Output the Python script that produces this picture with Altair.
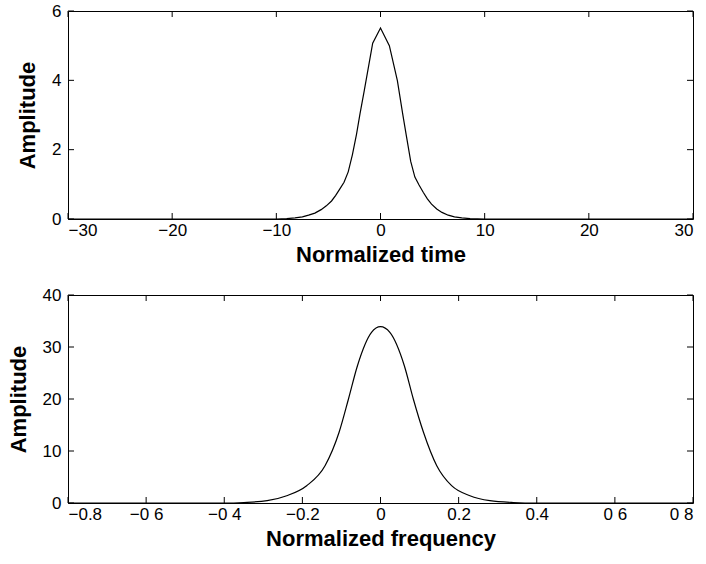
import altair as alt
import pandas as pd

# ---- data ----
time_x = [-30, -10, -9, -8.2, -7.5, -6.9, -6.3, -5.7, -5.2, -4.7, -4.3, -3.9, -3.5, -3.1,
          -2.7, -2.3, -1.97, -1.55, -0.75, 0, 0.85, 1.62, 2.13, 2.5, 2.9, 3.3, 3.7, 4.1,
          4.5, 4.9, 5.4, 5.9, 6.5, 7.1, 7.8, 8.6, 10, 30]
time_y = [0, 0, 0.01, 0.03, 0.06, 0.11, 0.17, 0.27, 0.38, 0.52, 0.68, 0.87, 1.06, 1.36,
          1.85, 2.45, 3.03, 3.72, 5.07, 5.51, 5.0, 3.99, 3.03, 2.37, 1.66, 1.21, 0.98, 0.77,
          0.58, 0.43, 0.29, 0.19, 0.11, 0.06, 0.03, 0.01, 0, 0]

freq_x = [-0.8, -0.4, -0.35, -0.29, -0.24, -0.189, -0.142, -0.106, -0.082, -0.059, -0.023,
          0, 0.024, 0.061, 0.084, 0.11, 0.144, 0.182, 0.229, 0.28, 0.34, 0.4, 0.8]
freq_y = [0, 0, 0.1, 0.45, 1.4, 3.33, 7.17, 13.6, 20, 26.4, 32.8,
          33.9, 32.8, 26.4, 20, 13.6, 7.17, 3.33, 1.4, 0.45, 0.1, 0, 0]

time_xticks = [-30, -20, -10, 0, 10, 20, 30]
time_yticks = [0, 2, 4, 6]
freq_xticks = [-0.8, -0.6, -0.4, -0.2, 0, 0.2, 0.4, 0.6, 0.8]
freq_xlabels = ["\u22120.8", "\u22120 6", "\u22120 4", "\u22120.2", "0", "0.2", "0.4", "0 6", "0 8"]
freq_yticks = [0, 10, 20, 30, 40]

W, H = 625, 208
TICK = 6
FONT = "Liberation Sans"


def label_expr(values, labels):
    expr = "''"
    for v, lab in reversed(list(zip(values, labels))):
        expr = f"abs(datum.value - ({v})) < 1e-6 ? '{lab}' : ({expr})"
    return expr


def panel(xs_data, ys_data, xdom, ydom, xticks, yticks, xtitle, interp, xlabels=None):
    df = pd.DataFrame({"x": xs_data, "y": ys_data})
    xs = alt.Scale(domain=xdom, nice=False, zero=False)
    ys = alt.Scale(domain=ydom, nice=False, zero=False)
    xaxis_kw = dict(values=xticks, title=xtitle, labelPadding=3, titlePadding=6)
    if xlabels is not None:
        xaxis_kw["labelExpr"] = label_expr(xticks, xlabels)
    xaxis = alt.Axis(**xaxis_kw)
    yaxis = alt.Axis(values=yticks, title="Amplitude", labelPadding=7, titlePadding=12)
    line = alt.Chart(df).mark_line(color="black", strokeWidth=1.2, interpolate=interp).encode(
        x=alt.X("x:Q", scale=xs, axis=xaxis),
        y=alt.Y("y:Q", scale=ys, axis=yaxis),
        order=alt.Order("x:Q"),
    )
    xt = pd.DataFrame({"x": xticks})
    yt = pd.DataFrame({"y": yticks})
    bt = alt.Chart(xt).mark_rule(color="black", strokeWidth=1).encode(
        x=alt.X("x:Q", scale=xs), y=alt.value(H), y2=alt.value(H - TICK))
    tt = alt.Chart(xt).mark_rule(color="black", strokeWidth=1).encode(
        x=alt.X("x:Q", scale=xs), y=alt.value(0), y2=alt.value(TICK))
    lt = alt.Chart(yt).mark_rule(color="black", strokeWidth=1).encode(
        y=alt.Y("y:Q", scale=ys), x=alt.value(0), x2=alt.value(TICK))
    rt = alt.Chart(yt).mark_rule(color="black", strokeWidth=1).encode(
        y=alt.Y("y:Q", scale=ys), x=alt.value(W), x2=alt.value(W - TICK))
    return alt.layer(line, bt, tt, lt, rt).properties(width=W, height=H)


top = panel(time_x, time_y, [-30, 30], [0, 6], time_xticks, time_yticks,
            "Normalized time", "linear")
bottom = panel(freq_x, freq_y, [-0.8, 0.8], [0, 40], freq_xticks, freq_yticks,
               "Normalized frequency", "monotone", freq_xlabels)

chart = alt.vconcat(top, bottom, spacing=76, bounds="flush").properties(
    padding={"left": 6, "top": 1, "right": 5, "bottom": 5},
    background="white",
).configure_view(
    stroke="black", strokeWidth=1
).configure_axis(
    labelFont=FONT, labelFontSize=17, labelColor="black",
    titleFont=FONT, titleFontSize=22, titleFontWeight="bold", titleColor="black",
    ticks=False, domain=False, grid=False,
)

chart.save("out.html", embed_options={"renderer": "svg", "actions": False})
